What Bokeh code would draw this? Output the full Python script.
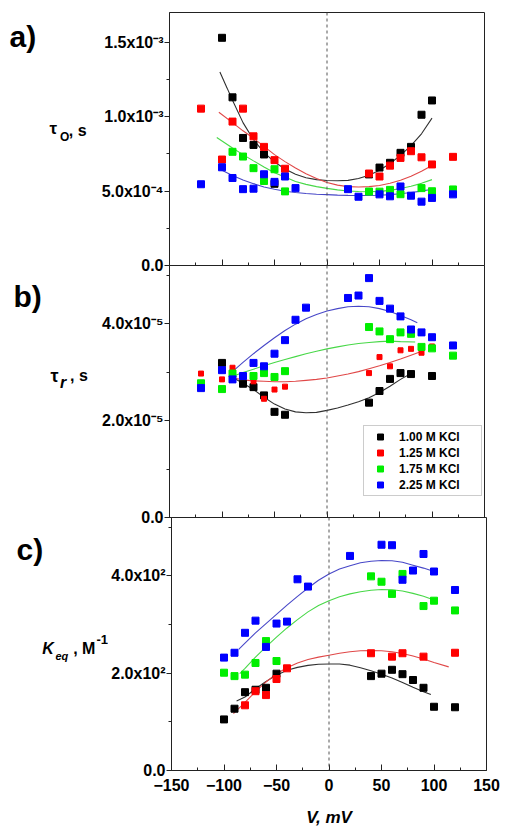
from bokeh.plotting import figure
from bokeh.models import (Range1d, FixedTicker, Span, Legend, LegendItem,
                          CustomLabelingPolicy)
from bokeh.layouts import column, row
from bokeh.core.properties import value
from bokeh.embed import file_html
from bokeh.resources import INLINE

FONT = "Liberation Sans"

# ---------------- data ----------------
series_names = ["1.00 M KCl", "1.25 M KCl", "1.75 M KCl", "2.25 M KCl"]
marker_colors = ["#000000", "#ff0000", "#00ee00", "#0000ff"]
line_colors = ["#303030", "#e04848", "#48d848", "#4848c8"]

x_major = [-150, -100, -50, 0, 50, 100, 150]
x_minor = [-125, -75, -25, 25, 75, 125]

# panel a: tau_o (s)
a_V = [
    [-100, -90, -80, -70, -60, -50, 40, 50, 60, 70, 80, 90, 100],
    [-120, -100, -90, -80, -70, -60, -50, -40, 40, 50, 60, 70, 80, 90, 100, 120],
    [-90, -80, -70, -60, -50, -40, 40, 50, 60, 70, 90, 100, 120],
    [-120, -100, -90, -80, -70, -60, -50, -40, -30, 20, 30, 50, 60, 70, 80, 90, 100, 120],
]
a_tau = [
    [1.53e-3, 1.13e-3, 0.857e-3, 0.81e-3, 0.746e-3, 0.549e-3, 0.612e-3, 0.658e-3, 0.69e-3, 0.757e-3, 0.797e-3, 1.013e-3, 1.109e-3],
    [1.054e-3, 0.712e-3, 0.967e-3, 1.054e-3, 0.868e-3, 0.797e-3, 0.708e-3, 0.65e-3, 0.618e-3, 0.598e-3, 0.671e-3, 0.723e-3, 0.768e-3, 0.727e-3, 0.679e-3, 0.73e-3],
    [0.764e-3, 0.732e-3, 0.654e-3, 0.568e-3, 0.647e-3, 0.498e-3, 0.497e-3, 0.496e-3, 0.508e-3, 0.479e-3, 0.52e-3, 0.499e-3, 0.511e-3],
    [0.546e-3, 0.66e-3, 0.588e-3, 0.513e-3, 0.516e-3, 0.613e-3, 0.562e-3, 0.598e-3, 0.52e-3, 0.513e-3, 0.462e-3, 0.478e-3, 0.465e-3, 0.531e-3, 0.469e-3, 0.429e-3, 0.454e-3, 0.478e-3],
]
a_fit_V = [
    [-102, -95, -90, -80, -70, -60, -50, -40, -30, -20, -10, 0, 10, 20, 30, 40, 50, 60, 70, 80, 90, 100],
    [-103, -90, -80, -70, -60, -50, -40, -30, -20, -10, 0, 10, 20, 30, 40, 50, 60, 70, 80, 90, 100],
    [-105, -90, -80, -70, -60, -50, -40, -30, -20, -10, 0, 10, 20, 30, 40, 50, 60, 70, 80, 90, 100],
    [-102, -90, -80, -70, -60, -50, -40, -30, -20, -10, 0, 10, 20, 30, 40, 50, 60, 70, 80, 90, 100],
]
a_fit = [
    [1.30e-3, 1.19e-3, 1.11e-3, 0.96e-3, 0.845e-3, 0.76e-3, 0.695e-3, 0.648e-3, 0.613e-3, 0.59e-3, 0.577e-3, 0.571e-3, 0.569e-3, 0.572e-3, 0.585e-3, 0.607e-3, 0.64e-3, 0.685e-3, 0.74e-3, 0.805e-3, 0.885e-3, 0.99e-3],
    [1.03e-3, 0.96e-3, 0.905e-3, 0.855e-3, 0.80e-3, 0.745e-3, 0.698e-3, 0.655e-3, 0.617e-3, 0.585e-3, 0.558e-3, 0.54e-3, 0.53e-3, 0.527e-3, 0.53e-3, 0.538e-3, 0.553e-3, 0.573e-3, 0.60e-3, 0.633e-3, 0.672e-3],
    [0.86e-3, 0.79e-3, 0.745e-3, 0.703e-3, 0.662e-3, 0.623e-3, 0.594e-3, 0.565e-3, 0.545e-3, 0.53e-3, 0.518e-3, 0.508e-3, 0.501e-3, 0.497e-3, 0.496e-3, 0.498e-3, 0.505e-3, 0.517e-3, 0.532e-3, 0.552e-3, 0.577e-3],
    [0.647e-3, 0.605e-3, 0.574e-3, 0.55e-3, 0.528e-3, 0.512e-3, 0.499e-3, 0.49e-3, 0.484e-3, 0.479e-3, 0.476e-3, 0.473e-3, 0.471e-3, 0.47e-3, 0.47e-3, 0.472e-3, 0.476e-3, 0.482e-3, 0.49e-3, 0.50e-3, 0.512e-3],
]
a_ticks = [0.0, 5e-4, 1e-3, 1.5e-3]
a_minor = [2.5e-4, 7.5e-4, 1.25e-3]
a_labels = ["0.0", "5.0x10\u207b\u2074", "1.0x10\u207b\u00b3", "1.5x10\u207b\u00b3"]

# panel b: tau_r (s)
b_V = [
    [-100, -80, -70, -60, -50, -40, 40, 50, 60, 70, 80, 100],
    [-120, -100, -90, -70, -60, -50, -40, 40, 50, 60, 70, 80, 90, 100],
    [-120, -100, -90, -70, -60, -50, -40, 40, 50, 60, 70, 80, 90, 100, 120],
    [-120, -100, -90, -80, -70, -60, -50, -40, -30, -20, 20, 30, 40, 50, 60, 70, 80, 90, 100, 120],
]
b_tau = [
    [3.19e-5, 2.76e-5, 2.69e-5, 2.52e-5, 2.18e-5, 2.12e-5, 2.37e-5, 2.61e-5, 2.86e-5, 2.98e-5, 2.96e-5, 2.92e-5],
    [2.97e-5, 2.85e-5, 3.09e-5, 2.81e-5, 2.45e-5, 2.64e-5, 2.70e-5, 2.98e-5, 3.31e-5, 3.12e-5, 3.45e-5, 3.48e-5, 3.40e-5, 3.53e-5],
    [2.77e-5, 2.65e-5, 2.97e-5, 2.92e-5, 2.98e-5, 2.90e-5, 3.02e-5, 3.93e-5, 3.84e-5, 3.68e-5, 3.82e-5, 3.79e-5, 3.52e-5, 3.49e-5, 3.34e-5],
    [2.67e-5, 3.04e-5, 2.85e-5, 2.92e-5, 3.19e-5, 3.12e-5, 3.38e-5, 3.66e-5, 4.08e-5, 4.33e-5, 4.53e-5, 4.58e-5, 4.94e-5, 4.47e-5, 4.31e-5, 4.15e-5, 3.88e-5, 3.82e-5, 3.72e-5, 3.55e-5],
]
b_fit_V = [
    [-89, -80, -70, -60, -50, -40, -30, -20, -10, 0, 10, 20, 30, 40, 50, 60, 70, 80],
    [-89, -80, -70, -60, -50, -40, -30, -20, -10, 0, 10, 20, 30, 40, 50, 60, 70, 80, 89],
    [-89, -80, -70, -60, -50, -40, -30, -20, -10, 0, 10, 20, 30, 40, 50, 60, 70, 84],
    [-89, -80, -70, -60, -50, -40, -30, -20, -10, 0, 10, 20, 30, 40, 50, 60, 70, 80, 86],
]
b_fit = [
    [2.88e-5, 2.77e-5, 2.64e-5, 2.48e-5, 2.34e-5, 2.24e-5, 2.18e-5, 2.16e-5, 2.17e-5, 2.21e-5, 2.26e-5, 2.32e-5, 2.39e-5, 2.47e-5, 2.58e-5, 2.71e-5, 2.85e-5, 2.97e-5],
    [2.88e-5, 2.84e-5, 2.82e-5, 2.81e-5, 2.80e-5, 2.80e-5, 2.81e-5, 2.83e-5, 2.85e-5, 2.88e-5, 2.92e-5, 2.96e-5, 3.01e-5, 3.07e-5, 3.13e-5, 3.20e-5, 3.27e-5, 3.35e-5, 3.42e-5],
    [2.92e-5, 2.99e-5, 3.06e-5, 3.13e-5, 3.20e-5, 3.26e-5, 3.32e-5, 3.38e-5, 3.43e-5, 3.48e-5, 3.52e-5, 3.56e-5, 3.59e-5, 3.61e-5, 3.63e-5, 3.64e-5, 3.63e-5, 3.62e-5],
    [3.03e-5, 3.20e-5, 3.38e-5, 3.55e-5, 3.71e-5, 3.86e-5, 3.99e-5, 4.10e-5, 4.19e-5, 4.26e-5, 4.31e-5, 4.35e-5, 4.36e-5, 4.35e-5, 4.31e-5, 4.25e-5, 4.17e-5, 4.08e-5, 4.02e-5],
]
b_ticks = [0.0, 2e-5, 4e-5]
b_minor = [1e-5, 3e-5, 5e-5]
b_labels = ["0.0", "2.0x10\u207b\u2075", "4.0x10\u207b\u2075"]

# panel c: K_eq (M^-1)
c_V = [
    [-100, -90, -80, -70, -60, -50, 40, 50, 60, 70, 80, 90, 100, 120],
    [-80, -70, -60, -50, -40, 40, 60, 70, 90, 120],
    [-100, -90, -80, -70, -60, -50, 40, 50, 60, 70, 90, 100, 120],
    [-100, -90, -80, -70, -60, -50, -40, -30, -20, 20, 50, 60, 70, 80, 90, 100, 120],
]
c_K = [
    [105, 127, 161, 166, 170, 199, 194, 199, 207, 198, 186, 170, 131, 130],
    [134, 163, 155, 188, 210, 241, 234, 241, 234, 242],
    [201, 194, 197, 221, 266, 225, 399, 388, 363, 404, 338, 349, 329],
    [232, 242, 283, 308, 254, 302, 306, 393, 378, 441, 464, 463, 392, 411, 445, 409, 371],
]
c_fit_V = [
    [-88, -80, -70, -60, -50, -40, -30, -20, -10, 0, 10, 20, 30, 40, 50, 60, 70, 80, 90, 97],
    [-91, -80, -70, -60, -50, -40, -30, -20, -10, 0, 10, 20, 30, 40, 50, 60, 70, 80, 90, 100, 114],
    [-85, -80, -70, -60, -50, -40, -30, -20, -10, 0, 10, 20, 30, 40, 50, 60, 70, 80, 90, 100],
    [-86, -80, -70, -60, -50, -40, -30, -20, -10, 0, 10, 20, 30, 40, 50, 60, 70, 80, 90, 100],
]
c_fit = [
    [143, 151, 168, 183, 196, 206, 212, 216, 218.5, 219, 219, 216.5, 211, 205, 198, 190, 181, 171, 162, 156],
    [117, 140, 162, 182, 199, 211, 221, 228, 233, 237, 241, 244, 246, 246.5, 246, 244, 240.5, 235.5, 229, 222, 213],
    [199, 210, 233, 254, 274, 293, 310, 326, 339, 349, 357, 363, 367.5, 370.5, 372, 371.5, 369, 364, 358, 350.5],
    [249, 262, 283, 302, 321, 340, 358, 375, 391, 404, 414, 421, 427, 430, 431.5, 431, 428, 422, 416, 409],
]
c_ticks = [0.0, 200.0, 400.0]
c_minor = [100.0, 300.0, 500.0]
c_labels = ["0.0", "2.0x10\u00b2", "4.0x10\u00b2"]

# ---------------- layout constants (page pixels) ----------------
FRAME_LEFT = 169
FRAME_W = 315
RIGHT_B = 16
OVER = 10   # canvas overhang below a stacked panel, so its "0.0" label is centred on the seam


def make_panel(y_end, frame_h, top_b, bottom_b, left_b, ticks, minor, labels, show_x):
    p = figure(frame_width=FRAME_W, frame_height=frame_h,
               x_range=Range1d(-150, 150), y_range=Range1d(0, y_end),
               output_backend="svg", toolbar_location=None,
               min_border_left=left_b, min_border_right=RIGHT_B,
               min_border_top=top_b, min_border_bottom=bottom_b)
    p.grid.visible = False
    p.outline_line_color = "#222222"
    p.outline_line_width = 1
    p.background_fill_color = "white"
    p.border_fill_color = "white"

    ya = p.yaxis[0]
    ya.ticker = FixedTicker(ticks=ticks, minor_ticks=minor)
    ya.major_label_overrides = {t: l for t, l in zip(ticks, labels)}
    ya.major_tick_in = 0
    ya.major_tick_out = 5
    ya.minor_tick_in = 0
    ya.minor_tick_out = 3
    ya.major_label_standoff = 1
    ya.major_label_text_font = FONT
    ya.major_label_text_font_style = "bold"
    ya.major_label_text_font_size = "16px"
    ya.major_label_text_color = "black"
    ya.axis_line_color = "#222222"
    ya.major_tick_line_color = "#222222"
    ya.minor_tick_line_color = "#222222"

    xa = p.xaxis[0]
    xa.ticker = FixedTicker(ticks=x_major, minor_ticks=x_minor)
    xa.major_tick_in = 6
    xa.major_tick_out = 0
    xa.minor_tick_in = 3
    xa.minor_tick_out = 0
    xa.axis_line_color = "#222222"
    xa.major_tick_line_color = "#222222"
    xa.minor_tick_line_color = "#222222"
    if show_x:
        xa.major_label_standoff = 8
        xa.major_label_text_font = FONT
        xa.major_label_text_font_style = "bold"
        xa.major_label_text_font_size = "16px"
        xa.major_label_text_color = "black"
        xa.axis_label = "V, mV"
        xa.axis_label_text_font = FONT
        xa.axis_label_text_font_style = "bold italic"
        xa.axis_label_text_font_size = "17px"
        xa.axis_label_text_color = "black"
        xa.axis_label_standoff = 14
    else:
        # tick marks only: the shared axis of a stacked panel carries no labels
        xa.major_label_text_font_size = "0px"
        xa.major_label_standoff = 0
        xa.major_label_policy = CustomLabelingPolicy(code="return new Set()")

    p.add_layout(Span(location=0, dimension="height", line_color="#555555",
                      line_dash="3 3", line_width=1))
    return p


def draw_series(p, Vs, Ys, fVs, fYs, sizes):
    rends = []
    for i in range(4):
        p.line(fVs[i], fYs[i], line_color=line_colors[i], line_width=1.1)
    for i in range(4):
        r = p.scatter(Vs[i], Ys[i], marker="square", size=sizes[i],
                      fill_color=marker_colors[i], line_color=marker_colors[i])
        rends.append(r)
    return rends


def label_fig(W, H):
    f = figure(frame_width=W, frame_height=H, x_range=Range1d(0, W), y_range=Range1d(H, 0),
               output_backend="svg", toolbar_location=None,
               x_axis_type=None, y_axis_type=None, min_border=0)
    f.title.visible = False
    f.outline_line_color = None
    f.grid.visible = False
    f.background_fill_color = "white"
    f.border_fill_color = "white"
    f.background_fill_alpha = 0
    f.border_fill_alpha = 0
    return f


def put(f, x, y, text, size, style):
    # y is the vertical middle of the text line, measured from the top of the row
    f.text(x=[x], y=[y], text=[text], text_font=value(FONT),
           text_font_size=value(size), text_font_style=value(style),
           text_color="black", text_baseline=value("middle"),
           text_align=value("left"))


# ---- panel a ----
WA = 98
pa = make_panel(1.7e-3, 253, 12, OVER, FRAME_LEFT - WA, a_ticks, a_minor, a_labels, False)
draw_series(pa, a_V, a_tau, a_fit_V, a_fit, [7, 7, 7, 7])
la = label_fig(WA, 12 + 253 + OVER)
put(la, 9, 24, "a)", "30px", "bold")
put(la, 49, 116, "\u03c4", "17px", "bold")
put(la, 59.5, 124, "O", "12px", "bold")
put(la, 68.3, 117.5, ", s", "16px", "bold")

# ---- panel b ----
WB = 98
pb = make_panel(5.2e-5, 252, 0, OVER, FRAME_LEFT - WB, b_ticks, b_minor, b_labels, False)
pb.border_fill_alpha = 0
rb = draw_series(pb, b_V, b_tau, b_fit_V, b_fit, [7, 5, 7, 7])
lb = label_fig(WB, 252 + OVER)
put(lb, 13, 31, "b)", "30px", "bold")
put(lb, 50, 110.5, "\u03c4", "18px", "bold")
put(lb, 59.5, 116.5, "r", "16px", "bold italic")
put(lb, 69.5, 110, ", s", "16px", "bold")

legend = Legend(items=[LegendItem(label=series_names[i], renderers=[rb[i]]) for i in range(4)],
                location=(194, 21))
legend.margin = 0
legend.padding = 3
legend.spacing = 1
legend.glyph_width = 26
legend.glyph_height = 15
legend.label_height = 15
legend.label_width = 79
legend.label_standoff = 6
legend.label_text_font = FONT
legend.label_text_font_style = "bold"
legend.label_text_font_size = "12px"
legend.label_text_color = "black"
legend.border_line_color = "#999999"
legend.border_line_width = 1
legend.background_fill_color = "white"
legend.background_fill_alpha = 1
pb.add_layout(legend)

# ---- panel c ----
WC = 108
pc = make_panel(520, 253, 0, 60, FRAME_LEFT - WC, c_ticks, c_minor, c_labels, True)
pc.border_fill_alpha = 0
draw_series(pc, c_V, c_K, c_fit_V, c_fit, [7, 7, 7, 7])
lc = label_fig(WC, 253 + 60)
put(lc, 16, 32, "c)", "30px", "bold")
put(lc, 41.7, 131, "K", "16px", "bold italic")
put(lc, 55, 138, "eq", "11px", "bold italic")
put(lc, 72.7, 131, ", M", "16px", "bold")
put(lc, 96, 122, "-1", "13px", "bold")

layout = column(
    row(la, pa, spacing=0, margin=(0, 0, -OVER, 0)),
    row(lb, pb, spacing=0, margin=(0, 0, -OVER, 0)),
    row(lc, pc, spacing=0),
    spacing=0,
)
open("out.html", "w").write(file_html(layout, INLINE))
